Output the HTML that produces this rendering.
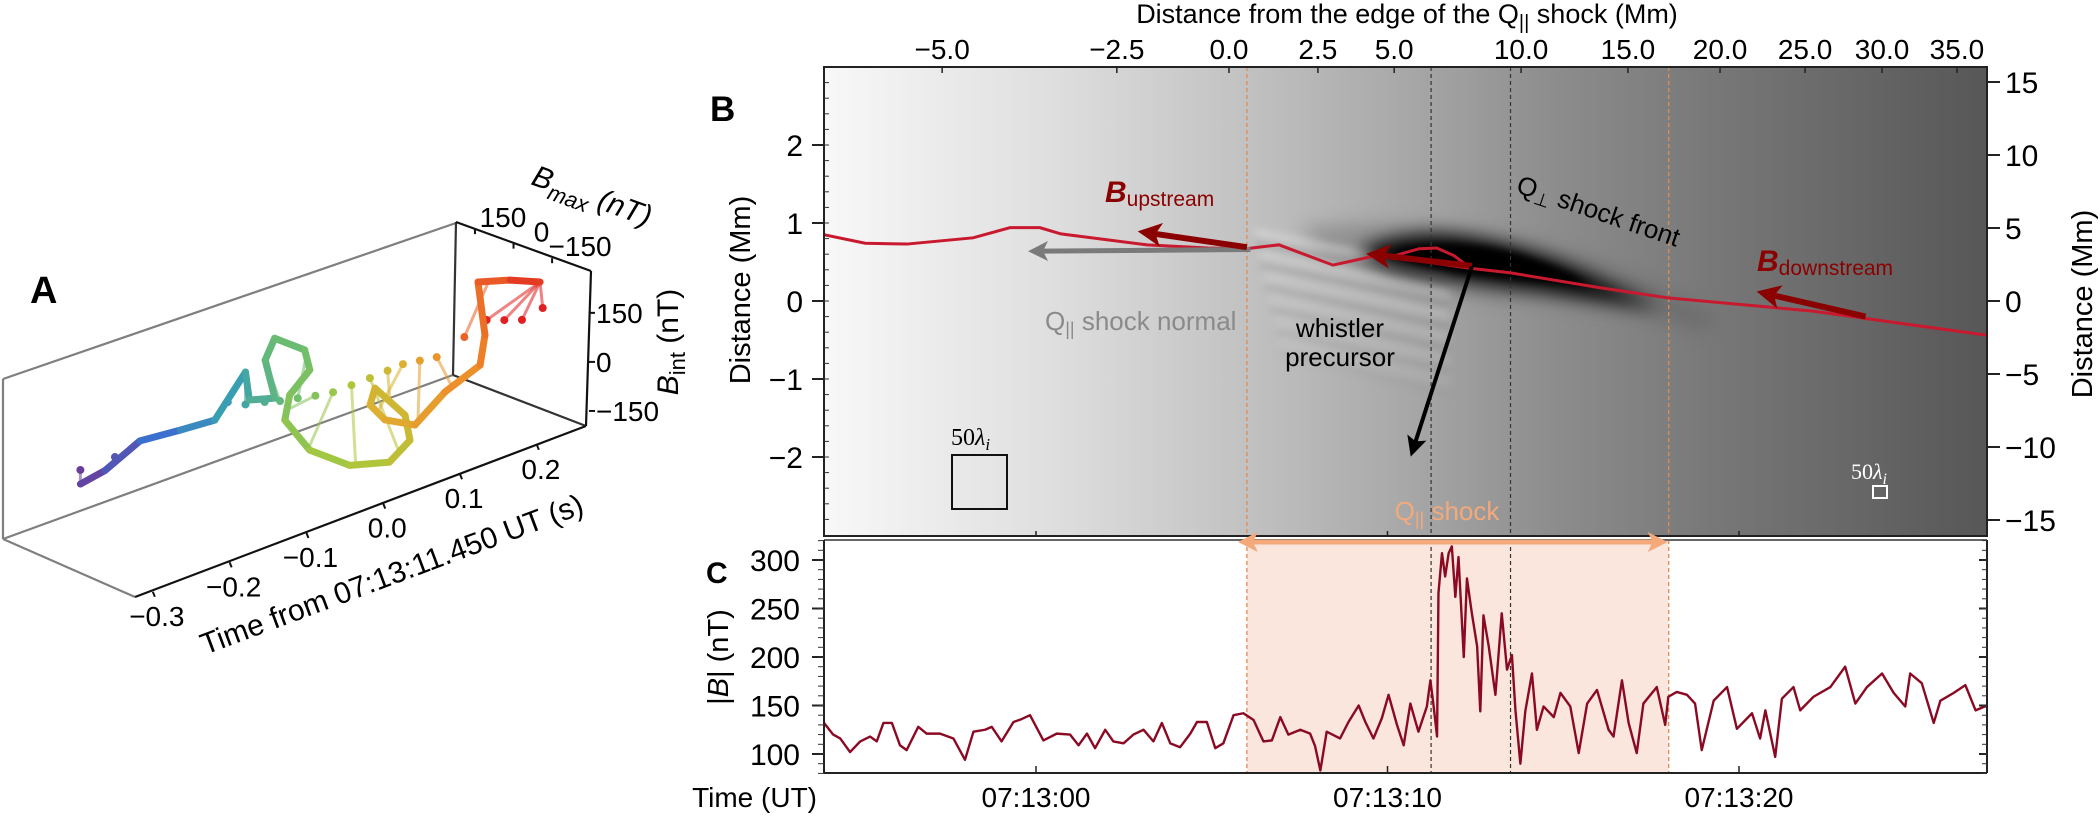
<!DOCTYPE html>
<html><head><meta charset="utf-8"><style>
html,body{margin:0;padding:0;background:#fff;}
svg{display:block;font-family:"Liberation Sans",sans-serif;}
</style></head><body>
<svg id="fig" width="2100" height="816" viewBox="0 0 2100 816" xmlns="http://www.w3.org/2000/svg">
<defs>
<linearGradient id="bgGrad" x1="0" y1="0" x2="1" y2="0">
<stop offset="0" stop-color="#f8f8f8"/><stop offset="0.2" stop-color="#dedede"/><stop offset="0.36" stop-color="#c2c2c2"/>
<stop offset="0.52" stop-color="#a4a4a4"/><stop offset="0.62" stop-color="#8e8e8e"/><stop offset="0.75" stop-color="#7a7a7a"/><stop offset="1" stop-color="#575757"/>
</linearGradient>
<filter id="blur8" x="-30%" y="-100%" width="160%" height="300%"><feGaussianBlur stdDeviation="9"/></filter>
<filter id="blur4" x="-30%" y="-100%" width="160%" height="300%"><feGaussianBlur stdDeviation="4"/></filter>
<clipPath id="clipB"><rect x="824" y="67" width="1163" height="469"/></clipPath>
<clipPath id="clipC"><rect x="824" y="540" width="1163" height="233"/></clipPath>
<marker id="ahRed" markerWidth="4" markerHeight="4" refX="1" refY="2" orient="auto" markerUnits="strokeWidth"><path d="M0,2 L4,0 L3,2 L4,4 Z" fill="#8b0000" transform="rotate(180 2 2)"/></marker>
<marker id="ahGrey" markerWidth="4" markerHeight="4" refX="1" refY="2" orient="auto" markerUnits="strokeWidth"><path d="M0,2 L4,0 L3,2 L4,4 Z" fill="#7a7a7a" transform="rotate(180 2 2)"/></marker>
<marker id="ahBlack" markerWidth="5" markerHeight="5" refX="1" refY="2.5" orient="auto" markerUnits="strokeWidth"><path d="M0,2.5 L5,0 L4,2.5 L5,5 Z" fill="#000" transform="rotate(180 2.5 2.5)"/></marker>
<marker id="ahOrange" markerWidth="4" markerHeight="4" refX="3" refY="2" orient="auto" markerUnits="strokeWidth"><path d="M0,0 L4,2 L0,4 L1,2 Z" fill="#f4a97a"/></marker>
<marker id="ahOrangeS" markerWidth="4" markerHeight="4" refX="1" refY="2" orient="auto-start-reverse" markerUnits="strokeWidth"><path d="M0,0 L4,2 L0,4 L1,2 Z" fill="#f4a97a"/></marker>
</defs>

<!-- PANEL A -->
<g>
<text x="30" y="303" font-size="38" font-weight="bold">A</text>
<g fill="none" stroke-width="2.2">
<line x1="3" y1="379" x2="456" y2="223" stroke="#7f7f7f"/>
<line x1="3" y1="379" x2="3" y2="539" stroke="#7f7f7f"/>
<line x1="3" y1="539" x2="453" y2="375" stroke="#7f7f7f"/>
<line x1="3" y1="539" x2="135" y2="597" stroke="#7f7f7f"/>
<line x1="456" y1="222" x2="453" y2="375" stroke="#333"/>
<line x1="453" y1="375" x2="586" y2="426" stroke="#333"/>
<line x1="456" y1="222" x2="591" y2="271" stroke="#111"/>
<line x1="591" y1="271" x2="586" y2="426" stroke="#111"/>
<line x1="135" y1="597" x2="586" y2="426" stroke="#111"/>
</g>
<g id="aCurve"></g>
<g id="aTicks"></g>
<text x="205" y="655" font-size="30" transform="rotate(-20.5 205 655)">Time from 07:13:11.450 UT (s)</text>
<text x="530" y="184" font-size="30" font-style="italic" transform="rotate(20 530 184)">B<tspan font-size="22" dy="8">max</tspan><tspan dy="-8"> (nT)</tspan></text>
<text x="678" y="342" font-size="30" text-anchor="middle" transform="rotate(-90 678 342)"><tspan font-style="italic">B</tspan><tspan font-size="22" dy="7">int</tspan><tspan dy="-7"> (nT)</tspan></text>
</g>

<!-- PANEL B -->
<g>
<text x="710" y="121" font-size="35" font-weight="bold">B</text>
<rect x="824" y="67" width="1163" height="469" fill="url(#bgGrad)"/>
<g clip-path="url(#clipB)">
<path d="M1300,228 Q1420,215 1520,240 Q1640,270 1720,320 L1700,330 Q1600,300 1500,300 Q1400,290 1320,250 Z" fill="#555" opacity="0.35" filter="url(#blur8)"/>
<g id="stripes" filter="url(#blur4)"></g>
<path d="M1360,250 Q1410,228 1470,238 Q1540,250 1600,280 Q1640,298 1660,308 Q1600,300 1540,290 Q1460,282 1400,270 Q1370,262 1360,250 Z" fill="#000" filter="url(#blur8)"/>
<path d="M1395,252 Q1450,238 1510,252 Q1560,266 1590,285 Q1520,280 1460,272 Q1410,264 1395,252 Z" fill="#000" filter="url(#blur4)"/>
</g>
<g id="bLines"></g>
<g id="bField" clip-path="url(#clipB)"></g>
<g id="bArrows"></g>
<rect x="824" y="67" width="1163" height="469" fill="none" stroke="#222" stroke-width="2"/>
<g id="bAxes"></g>
<text x="1407" y="23" font-size="27" text-anchor="middle">Distance from the edge of the Q<tspan font-size="20" dy="6">||</tspan><tspan dy="-6"> shock (Mm)</tspan></text>
<text x="750" y="290" font-size="29" text-anchor="middle" transform="rotate(-90 750 290)">Distance (Mm)</text>
<text x="2092" y="304" font-size="29" text-anchor="middle" transform="rotate(-90 2092 304)">Distance (Mm)</text>
<text x="1105" y="202" font-size="30" fill="#8b0000"><tspan font-weight="bold" font-style="italic">B</tspan><tspan font-size="21" dy="4">upstream</tspan></text>
<text x="1045" y="330" font-size="26" fill="#8a8a8a">Q<tspan font-size="18" dy="5">||</tspan><tspan dy="-5"> shock normal</tspan></text>
<text x="1515" y="192" font-size="26" transform="rotate(18.8 1515 192)">Q<tspan font-size="18" dy="5">⊥</tspan><tspan dy="-5"> shock front</tspan></text>
<text x="1757" y="271" font-size="30" fill="#8b0000"><tspan font-weight="bold" font-style="italic">B</tspan><tspan font-size="21" dy="4">downstream</tspan></text>
<text x="1340" y="337" font-size="26" text-anchor="middle">whistler</text>
<text x="1340" y="366" font-size="26" text-anchor="middle">precursor</text>
<g>
<text x="951" y="445" font-size="24" font-family="'Liberation Serif',serif">50<tspan font-style="italic">λ</tspan><tspan font-style="italic" font-size="17" dy="5">i</tspan></text>
<rect x="952" y="455" width="55" height="54" fill="none" stroke="#111" stroke-width="2"/>
</g>
<g>
<text x="1851" y="479" font-size="22" fill="#fff" font-family="'Liberation Serif',serif">50<tspan font-style="italic">λ</tspan><tspan font-style="italic" font-size="16" dy="5">i</tspan></text>
<rect x="1873" y="486" width="14" height="12" fill="none" stroke="#fff" stroke-width="2"/>
</g>
<text x="1447" y="520" font-size="26" fill="#f4a97a" text-anchor="middle">Q<tspan font-size="18" dy="5">||</tspan><tspan dy="-5"> shock</tspan></text>
</g>

<!-- PANEL C -->
<g>
<rect id="cShade" x="1247" y="540" width="422" height="233" fill="#fae6dc"/>
<g id="cLines"></g>
<g id="cSeries" clip-path="url(#clipC)"></g>
<line x1="824" y1="540" x2="1987" y2="540" stroke="#666" stroke-width="2"/>
<line x1="824" y1="540" x2="824" y2="773" stroke="#222" stroke-width="2"/>
<line x1="1987" y1="540" x2="1987" y2="773" stroke="#222" stroke-width="2"/>
<line x1="824" y1="773" x2="1987" y2="773" stroke="#222" stroke-width="2"/>
<line id="cArrow" x1="1253" x2="1663" y1="542" y2="542" stroke="#f4a97a" stroke-width="5" marker-start="url(#ahOrangeS)" marker-end="url(#ahOrange)"/>
<g id="cAxes"></g>
<text x="706" y="583" font-size="30" font-weight="bold">C</text>
<text x="728" y="657" font-size="29" text-anchor="middle" transform="rotate(-90 728 657)">|<tspan font-style="italic">B</tspan>| (nT)</text>
<text x="817" y="807" font-size="28" text-anchor="end">Time (UT)</text>
</g>
</svg>

<script>
// ===== Panel A data (time s, Bmax nT, Bint nT) =====
const curveT = [-0.30,-0.27,-0.225,-0.17,-0.125,-0.085,-0.08,-0.05,-0.04,-0.03,-0.02,-0.01,0.0,0.01,0.03,0.05,0.07,0.085,0.095,0.105,0.115,0.125,0.14,0.16,0.18,0.19,0.195,0.21,0.225];
const curveBmax = [0,-6,-8,0,0,0,0,-10,58,51,-36,-26,82,131,94,-2,-97,-132,-83,64,113,85,13,-44,-121,-110,-68,-148,-220];
const curveBint = [50,66,117,98,88,199,109,91,178,238,219,146,28,-72,-171,-207,-187,-123,-70,-40,-115,-161,-169,-69,18,98,243,259,261];
const dotT = [-0.30,-0.255,-0.108,-0.085,-0.06,-0.04,-0.017,0.006,0.029,0.053,0.077,0.1,0.12,0.142,0.164,0.2,0.229,0.252,0.275,0.302];
const dotBint = [93,92,128,100,85,70,58,45,35,35,35,37,39,30,21,50,76,55,35,47];
const timeTicks = [-0.3,-0.2,-0.1,0.0,0.1,0.2];
const timeTickLabels = ["\u22120.3","\u22120.2","\u22120.1","0.0","0.1","0.2"];
const bmaxTicks = [150,0,-150];
const bmaxTickLabels = ["150","0","\u2212150"];
const bintTicks = [150,0,-150];
const bintTickLabels = ["150","0","\u2212150"];

// ===== Panel B data (x in s from 07:13:00, y in Mm) =====
const fieldT = [-6.03,-4.86,-3.67,-1.79,-0.74,0.11,0.71,3.16,4.89,5.97,6.91,8.45,9.76,11.1,12.35,13.51,16.05,17.98,22.1,27.06];
const fieldY = [0.85,0.74,0.73,0.81,0.94,0.94,0.86,0.72,0.68,0.67,0.72,0.46,0.59,0.50,0.42,0.36,0.17,0.04,-0.13,-0.44];
const loopT = [10.2,10.9,11.4,11.9,12.3];
const loopY = [0.58,0.67,0.68,0.58,0.44];
const topTickPos = [-2.67,2.30,5.49,8.02,10.19,13.80,16.84,19.46,21.88,24.07,26.2];
const topTickLabels = ["\u22125.0","\u22122.5","0.0","2.5","5.0","10.0","15.0","20.0","25.0","30.0","35.0"];
const leftTicks = [2,1,0,-1,-2];
const leftTickLabels = ["2","1","0","\u22121","\u22122"];
const rightTicks = [15,10,5,0,-5,-10,-15];
const rightTickLabels = ["15","10","5","0","\u22125","\u221210","\u221215"];
const shockEdges = [6.0,18.0];
const innerEdges = [11.24,13.5];

// ===== Panel C data =====
const bTime = [-6.03,-5.77,-5.57,-5.29,-5.0,-4.72,-4.53,-4.34,-4.1,-3.87,-3.68,-3.35,-3.11,-2.73,-2.35,-2.02,-1.78,-1.45,-1.26,-0.98,-0.64,-0.41,-0.17,0.21,0.59,0.97,1.21,1.45,1.68,1.97,2.2,2.49,2.77,3.06,3.34,3.58,3.82,4.1,4.39,4.58,4.86,5.1,5.33,5.62,5.9,6.19,6.47,6.71,6.95,7.18,7.52,7.8,7.94,8.09,8.27,8.65,8.89,9.18,9.37,9.6,9.84,10.03,10.27,10.46,10.65,10.88,11.12,11.22,11.31,11.41,11.45,11.55,11.64,11.74,11.83,11.93,12.02,12.17,12.26,12.4,12.55,12.64,12.73,12.88,13.07,13.25,13.4,13.54,13.64,13.78,13.92,14.11,14.25,14.44,14.73,14.92,15.2,15.44,15.68,15.96,16.29,16.43,16.67,16.86,17.09,17.28,17.66,17.9,17.99,18.23,18.52,18.75,18.94,19.28,19.66,19.94,20.37,20.6,20.75,21.03,21.22,21.55,21.74,22.12,22.6,23.02,23.31,23.64,24.07,24.4,24.73,24.87,25.2,25.54,25.73,26.11,26.44,26.73,27.06];
const bValue = [132,120,116,102,113,118,113,132,132,109,104,128,121,121,116,94,123,125,128,113,133,136,140,114,121,120,109,121,106,125,113,111,120,125,113,132,111,107,121,133,133,106,111,140,142,135,113,114,138,120,125,121,108,83,123,116,133,150,133,116,137,161,130,109,152,123,149,176,150,118,266,307,283,307,314,262,303,200,281,245,211,144,243,211,161,245,187,202,145,90,144,183,125,149,138,163,149,101,152,166,125,118,176,132,101,152,169,130,159,164,161,152,104,155,169,126,142,116,145,97,157,169,145,159,169,190,152,169,183,163,149,183,173,132,155,163,171,145,150];
const cTicks = [100,150,200,250,300];
const cTickLabels = ["100","150","200","250","300"];
const timeLabelPos = [0,10,20];
const timeLabels = ["07:13:00","07:13:10","07:13:20"];

// ===== axis functions =====
const NS = "http://www.w3.org/2000/svg";
function mk(tag, attrs, parent){const e=document.createElementNS(NS,tag);for(const k in attrs)e.setAttribute(k,attrs[k]);parent.appendChild(e);return e;}
function xT(t){return 1036 + t*35.15;}
function yMm(m){return 301 - m*78;}
function yR(m){return 301 - m*14.6;}
function yC(v){return 560 + (300 - v)*0.97;}
function projA(t,bm,bi){return [586 + (t-0.264)*768 - 0.257*(bm+282), 426 - (t-0.264)*294 - 0.097*(bm+282) - 0.327*(bi+196)];}
function colA(t){
  const stops=[[-0.30,[106,61,154]],[-0.2,[59,111,208]],[-0.1,[58,160,176]],[-0.02,[110,190,110]],[0.05,[170,200,60]],[0.12,[220,176,48]],[0.18,[240,138,42]],[0.23,[224,32,32]]];
  if(t<=stops[0][0])return "rgb("+stops[0][1]+")";
  for(let i=1;i<stops.length;i++){if(t<=stops[i][0]){const a=stops[i-1],b=stops[i],f=(t-a[0])/(b[0]-a[0]);return "rgb("+a[1].map((c,j)=>Math.round(c+(b[1][j]-c)*f)).join(",")+")";}}
  return "rgb("+stops[stops.length-1][1]+")";
}

// ----- Panel A -----
const aCurve=document.getElementById("aCurve");
function curveAt(t){
  for(let i=1;i<curveT.length;i++){if(t<=curveT[i]){const f=(t-curveT[i-1])/(curveT[i]-curveT[i-1]);return projA(t,curveBmax[i-1]+(curveBmax[i]-curveBmax[i-1])*f,curveBint[i-1]+(curveBint[i]-curveBint[i-1])*f);}}
  const n=curveT.length-1;return projA(curveT[n],curveBmax[n],curveBint[n]);
}
for(let i=0;i<dotT.length;i++){
  const c=curveAt(Math.min(dotT[i],curveT[curveT.length-1]));
  const d=projA(dotT[i],0,dotBint[i]);
  const st=mk("line",{x1:c[0],y1:c[1],x2:d[0],y2:d[1],stroke:colA(dotT[i]),"stroke-width":3,opacity:0.55},aCurve);
  
  
  const dot=mk("circle",{cx:d[0],cy:d[1],r:4,fill:colA(dotT[i])},aCurve);
  
  
}
for(let i=1;i<curveT.length;i++){
  const p=projA(curveT[i-1],curveBmax[i-1],curveBint[i-1]);const q=projA(curveT[i],curveBmax[i],curveBint[i]);
  const seg=mk("line",{x1:p[0],y1:p[1],x2:q[0],y2:q[1],stroke:colA((curveT[i-1]+curveT[i])/2),"stroke-width":7,"stroke-linecap":"round"},aCurve);
  
  
}
const aTicks=document.getElementById("aTicks");
timeTicks.forEach((t,i)=>{
  const p=projA(t,-282,-196);
  mk("line",{x1:p[0],y1:p[1],x2:p[0]+2,y2:p[1]+5,stroke:"#111","stroke-width":2},aTicks);
  const tx=mk("text",{x:p[0]+4,y:p[1]+34,"font-size":28,"text-anchor":"middle"},aTicks);
  tx.textContent=timeTickLabels[i];
  
  
});
bmaxTicks.forEach((v,i)=>{
  const p=projA(0.264,v,278);
  mk("line",{x1:p[0],y1:p[1],x2:p[0],y2:p[1]+5,stroke:"#111","stroke-width":2},aTicks);
  const tx=mk("text",{x:p[0]+28,y:p[1]-2,"font-size":28,"text-anchor":"middle"},aTicks);
  tx.textContent=bmaxTickLabels[i];
  
  
});
bintTicks.forEach((v,i)=>{
  const p=projA(0.264,-282,v);
  mk("line",{x1:p[0]+3,y1:p[1],x2:p[0]+9,y2:p[1],stroke:"#111","stroke-width":2},aTicks);
  const tx=mk("text",{x:p[0]+10,y:p[1]+10,"font-size":28},aTicks);
  tx.textContent=bintTickLabels[i];
  
  
});

// ----- Panel B -----
const stripes=document.getElementById("stripes");
for(let k=0;k<6;k++){
  const s1=mk("line",{x1:1255+k*5,y1:232+k*22,x2:1450,y2:272+k*22,stroke:"#eeeeee","stroke-width":7,opacity:(0.4-k*0.06)},stripes);
  
  
  const s2=mk("line",{x1:1255+k*5,y1:243+k*22,x2:1450,y2:283+k*22,stroke:"#707070","stroke-width":6,opacity:(0.3-k*0.04)},stripes);
  
  
}
const bLines=document.getElementById("bLines");
shockEdges.forEach(t=>{const l=mk("line",{x1:xT(t),y1:67,x2:xT(t),y2:536,stroke:"#e08a55","stroke-width":1.3,"stroke-dasharray":"4,3"},bLines);});
innerEdges.forEach(t=>{const l=mk("line",{x1:xT(t),y1:67,x2:xT(t),y2:536,stroke:"#333","stroke-width":1.2,"stroke-dasharray":"4,3"},bLines);});
const bField=document.getElementById("bField");
const fl=mk("polyline",{points:fieldT.map((t,i)=>xT(t)+","+yMm(fieldY[i])).join(" "),fill:"none",stroke:"#c8192e","stroke-width":3},bField);


const lp=mk("polyline",{points:loopT.map((t,i)=>xT(t)+","+yMm(loopY[i])).join(" "),fill:"none",stroke:"#c8192e","stroke-width":3},bField);



const bArrows=document.getElementById("bArrows");
function arrow(t1,m1,t2,m2,col,w,mark,name){
  const a=mk("line",{x1:xT(t1),y1:yMm(m1),x2:xT(t2),y2:yMm(m2),stroke:col,"stroke-width":w,"marker-end":"url(#"+mark+")"},bArrows);
  
  
}
arrow(6.1,0.66,0.2,0.64,"#7a7a7a",5,"ahGrey","shock-normal-arrow");
arrow(6.0,0.69,3.4,0.86,"#8b0000",6,"ahRed","b-upstream-arrow");
arrow(12.4,0.45,9.9,0.58,"#8b0000",6,"ahRed","b-field-local-arrow");
arrow(23.6,-0.2,21.0,0.07,"#8b0000",6,"ahRed","b-downstream-arrow");
arrow(12.4,0.44,10.8,-1.8,"#000",4,"ahBlack","whistler-direction-arrow");

const bAxes=document.getElementById("bAxes");
topTickPos.forEach((t,i)=>{
  mk("line",{x1:xT(t),y1:67,x2:xT(t),y2:73,stroke:"#222","stroke-width":1.5},bAxes);
  const tx=mk("text",{x:xT(t),y:59,"font-size":28,"text-anchor":"middle"},bAxes);
  tx.textContent=topTickLabels[i];
  
  
});
leftTicks.forEach((m,i)=>{
  mk("line",{x1:812,y1:yMm(m),x2:824,y2:yMm(m),stroke:"#222","stroke-width":2},bAxes);
  const tx=mk("text",{x:803,y:yMm(m)+11,"font-size":30,"text-anchor":"end"},bAxes);
  tx.textContent=leftTickLabels[i];
  
  
});
for(let m=-2.8;m<=2.9;m+=0.2){mk("line",{x1:824,y1:yMm(m),x2:829,y2:yMm(m),stroke:"#333","stroke-width":1},bAxes);}
rightTicks.forEach((m,i)=>{
  mk("line",{x1:1987,y1:yR(m),x2:2000,y2:yR(m),stroke:"#222","stroke-width":2},bAxes);
  const tx=mk("text",{x:2005,y:yR(m)+11,"font-size":30},bAxes);
  tx.textContent=rightTickLabels[i];
  
  
});

// ----- Panel C -----
const sh=document.getElementById("cShade");
sh.setAttribute("x",xT(shockEdges[0]));sh.setAttribute("width",xT(shockEdges[1])-xT(shockEdges[0]));
const ca=document.getElementById("cArrow");
ca.setAttribute("x1",xT(shockEdges[0])+6);ca.setAttribute("x2",xT(shockEdges[1])-6);
const cLines=document.getElementById("cLines");
shockEdges.forEach(t=>{const l=mk("line",{x1:xT(t),y1:540,x2:xT(t),y2:773,stroke:"#e08a55","stroke-width":1.3,"stroke-dasharray":"4,3"},cLines);});
innerEdges.forEach(t=>{const l=mk("line",{x1:xT(t),y1:540,x2:xT(t),y2:773,stroke:"#333","stroke-width":1.2,"stroke-dasharray":"4,3"},cLines);});
const cSeries=document.getElementById("cSeries");
const sl=mk("polyline",{points:bTime.map((t,i)=>xT(t)+","+yC(bValue[i])).join(" "),fill:"none",stroke:"#8b0a23","stroke-width":2.4,"stroke-linejoin":"round"},cSeries);


const cAxes=document.getElementById("cAxes");
cTicks.forEach((v,i)=>{
  mk("line",{x1:812,y1:yC(v),x2:824,y2:yC(v),stroke:"#222","stroke-width":2},cAxes);
  mk("line",{x1:1979,y1:yC(v),x2:1987,y2:yC(v),stroke:"#222","stroke-width":2},cAxes);
  const tx=mk("text",{x:800,y:yC(v)+11,"font-size":30,"text-anchor":"end"},cAxes);
  tx.textContent=cTickLabels[i];
  
  
});
for(let v=80;v<=320;v+=10){mk("line",{x1:818,y1:yC(v),x2:824,y2:yC(v),stroke:"#333","stroke-width":1},cAxes);mk("line",{x1:1982,y1:yC(v),x2:1987,y2:yC(v),stroke:"#333","stroke-width":1},cAxes);}
timeLabelPos.forEach((t,i)=>{
  mk("line",{x1:xT(t),y1:773,x2:xT(t),y2:766,stroke:"#222","stroke-width":1.5},cAxes);
  mk("line",{x1:xT(t),y1:536,x2:xT(t),y2:531,stroke:"#222","stroke-width":1.5},cAxes);
  const tx=mk("text",{x:xT(t),y:807,"font-size":28,"text-anchor":"middle"},cAxes);
  tx.textContent=timeLabels[i];
  
  
});
</script>
</body></html>
